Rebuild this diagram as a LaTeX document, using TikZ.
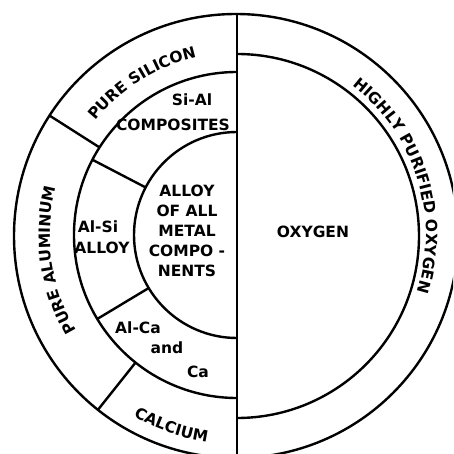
\documentclass[tikz,border=0pt]{standalone}
\usepackage{fontspec}
\setmainfont{DejaVu Sans}
\usetikzlibrary{decorations.text}
\newcommand\lblfont{\fontsize{15.5}{15.5}\selectfont\bfseries}
\newcommand\stackfont{\fontsize{15.5}{20}\selectfont\bfseries}
\begin{document}
\begin{tikzpicture}[x=1pt,y=1pt,line width=2.4pt,
  lbl/.style={font=\lblfont,inner sep=0pt,align=center},
  arctext/.style={decorate,decoration={text along path,text align=center,text={|\lblfont|#1}}}]
\useasboundingbox (-237,-219) rectangle (216,235);
\clip (-237,-219) rectangle (216,235);
% circles
\draw (-1,-1) circle[radius=222];
\draw (0,221) -- (0,-219);
\draw (0,181) arc[start angle=90,end angle=-90,radius=182];
\draw (0,163) arc[start angle=90,end angle=270,radius=163];
\draw (0,103) arc[start angle=90,end angle=270,radius=103];
% dividers
\draw (147.5:163) -- (147.5:223);
\draw (152.5:103) -- (152.5:163);
\draw (211:103) -- (211:163);
\draw (231.5:163) -- (231.5:223);
% straight labels
\node[lbl] (oxy) at (76,3) {OXYGEN};
\node[lbl,font=\stackfont] (alloyall) at (-50,4.5) {ALLOY\\OF ALL\\METAL\\COMPO -\\NENTS};
\node[lbl] (sial) at (-45,135) {Si-Al};
\node[lbl] (comp) at (-64,110) {COMPOSITES};
\node[lbl] (alsi) at (-139,8) {Al-Si};
\node[lbl] (alsialloy) at (-135,-13) {ALLOY};
\node[lbl] (alca) at (-99,-93) {Al-Ca};
\node[lbl] (and) at (-70,-113) {and};
\node[lbl] (ca) at (-39,-137) {Ca};
% curved labels
\path[arctext={PURE SILICON}] (160:182) arc[start angle=160,end angle=84,radius=182];
\path[arctext={PURE ALUMINUM}] (228:187) arc[start angle=228,end angle=148,radius=187];
\path[arctext={CALCIUM}] (226:209) arc[start angle=226,end angle=276,radius=209];
\path[arctext={HIGHLY PURIFIED OXYGEN}] (75:189) arc[start angle=75,end angle=-40,radius=189];
\end{tikzpicture}
\end{document}
